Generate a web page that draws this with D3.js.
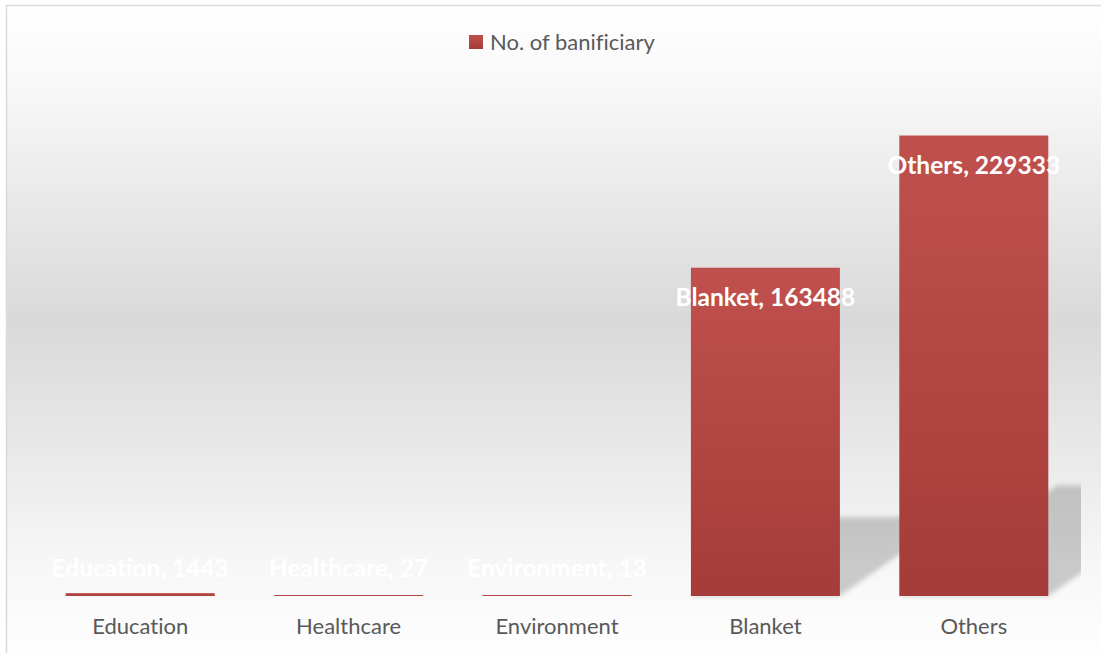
<!DOCTYPE html>
<html>
<head>
<meta charset="utf-8">
<script src="https://cdn.jsdelivr.net/npm/d3@7"></script>
<style>
  html, body { margin: 0; padding: 0; background: #fff; }
  svg { display: block; font-family: Lato, "Open Sans", sans-serif; font-variant-ligatures: none; }
</style>
</head>
<body>
<div id="chart"></div>
<script>
// data
const categories = ['Education', 'Healthcare', 'Environment', 'Blanket', 'Others'];
const values = [1443, 27, 13, 163488, 229333];
const seriesName = 'No. of banificiary';

const width = 1101, height = 653;
const base = 596;

const svg = d3.select('#chart').append('svg')
  .attr('width', width)
  .attr('height', height);

const defs = svg.append('defs');

// chart background: white -> grey -> white
const bg = defs.append('linearGradient')
  .attr('id', 'bgGrad')
  .attr('x1', 0).attr('y1', 0).attr('x2', 0).attr('y2', 1);
bg.append('stop').attr('offset', '0%').attr('stop-color', '#ffffff');
bg.append('stop').attr('offset', '12%').attr('stop-color', '#f8f8f8');
bg.append('stop').attr('offset', '48%').attr('stop-color', '#d9d9d9');
bg.append('stop').attr('offset', '85%').attr('stop-color', '#f7f7f7');
bg.append('stop').attr('offset', '100%').attr('stop-color', '#ffffff');

const barGrad = defs.append('linearGradient')
  .attr('id', 'barGrad')
  .attr('x1', 0).attr('y1', 0).attr('x2', 0).attr('y2', 1);
barGrad.append('stop').attr('offset', '0%').attr('stop-color', '#c0504d');
barGrad.append('stop').attr('offset', '100%').attr('stop-color', '#a53c39');

const blur = defs.append('filter')
  .attr('id', 'shadowBlur')
  .attr('x', '-20%').attr('y', '-20%').attr('width', '140%').attr('height', '140%');
blur.append('feGaussianBlur').attr('stdDeviation', 2.5);

defs.append('clipPath').attr('id', 'plotClip')
  .append('rect').attr('x', 6).attr('y', 6).attr('width', 1075).attr('height', 600);

svg.append('rect')
  .attr('x', 6.5).attr('y', 5.5)
  .attr('width', 1100).attr('height', 660)
  .attr('fill', 'url(#bgGrad)')
  .attr('stroke', '#d9d9d9')
  .attr('stroke-width', 1.5);

const x = d3.scaleBand()
  .domain(categories)
  .range([36, 1078])
  .paddingInner(0.285)
  .paddingOuter(0.1425);

const y = d3.scaleLinear()
  .domain([0, 250000])
  .range([base, 94]);

const rows = categories.map((c, i) => ({ cat: c, val: values[i] }));

// perspective shadow behind the bars
svg.append('g')
  .attr('clip-path', 'url(#plotClip)')
  .selectAll('polygon')
  .data(rows)
  .join('polygon')
  .attr('points', d => {
    const x0 = x(d.cat), x1 = x(d.cat) + x.bandwidth();
    const sh = (base - y(d.val)) * 0.24;
    const dx = sh / 0.7;
    return [[x0, base], [x1, base], [x1 + dx, base - sh], [x0 + dx, base - sh]]
      .map(p => p.join(',')).join(' ');
  })
  .attr('fill', '#000')
  .attr('fill-opacity', 0.19)
  .attr('filter', 'url(#shadowBlur)');

// bars
svg.append('g')
  .selectAll('rect')
  .data(rows)
  .join('rect')
  .attr('x', d => x(d.cat))
  .attr('width', x.bandwidth())
  .attr('y', d => Math.min(y(d.val), base - 1))
  .attr('height', d => Math.max(base - y(d.val), 1))
  .attr('fill', 'url(#barGrad)');

// data labels
svg.append('g')
  .selectAll('text')
  .data(rows)
  .join('text')
  .attr('x', d => x(d.cat) + x.bandwidth() / 2)
  .attr('y', d => Math.min(y(d.val) + 30, base - 28))
  .attr('dy', '0.35em')
  .attr('text-anchor', 'middle')
  .attr('fill', '#ffffff')
  .attr('font-size', 24.5)
  .attr('font-weight', 'bold')
  .text(d => d.cat + ', ' + d.val);

// category axis
const xAxis = svg.append('g')
  .attr('transform', `translate(0,${base})`)
  .call(d3.axisBottom(x).tickSize(0).tickPadding(22));
xAxis.select('.domain').remove();
xAxis.selectAll('text')
  .attr('font-family', 'Lato, "Open Sans", sans-serif')
  .attr('font-size', 22)
  .attr('fill', '#595959');

// legend
const legend = svg.append('g').attr('transform', 'translate(469,35)');
legend.append('rect')
  .attr('width', 14).attr('height', 14)
  .attr('fill', 'url(#barGrad)');
legend.append('text')
  .attr('x', 21).attr('y', 7)
  .attr('dy', '0.35em')
  .attr('font-size', 22)
  .attr('fill', '#595959')
  .text(seriesName);
</script>
</body>
</html>
